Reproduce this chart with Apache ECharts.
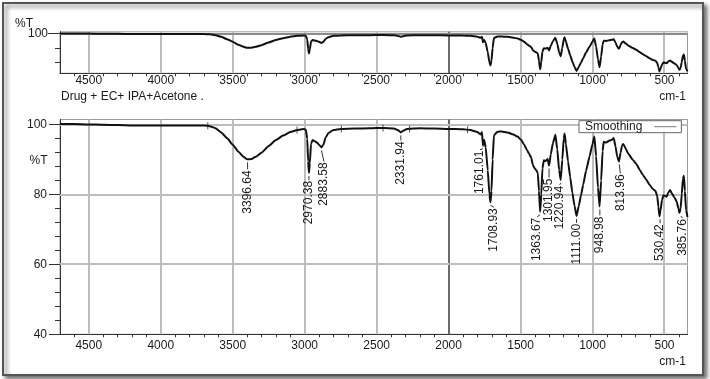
<!DOCTYPE html>
<html>
<head>
<meta charset="utf-8">
<script src="https://cdn.jsdelivr.net/npm/echarts@6/dist/echarts.min.js"></script>
<style>
html,body{margin:0;padding:0;background:#fff;}
#chart{width:710px;height:379px;}
</style>
</head>
<body>
<div id="chart"></div>
<script>
// ---------- DATA ----------
const wavenumber = [4700,4600,4500,4400,4300,4200,4100,4000,3900,3800,3700,3660,3620,3580,3540,3500,3460,3430,3400,3370,3340,3300,3250,3200,3150,3100,3050,3010,2992,2982,2976,2970,2964,2956,2945,2930,2915,2900,2884,2870,2855,2835,2800,2750,2650,2550,2450,2380,2350,2332,2315,2290,2200,2100,2000,1900,1850,1800,1778,1768,1761,1753,1742,1728,1716,1709,1702,1694,1685,1660,1630,1590,1550,1520,1495,1475,1455,1440,1425,1415,1403,1390,1380,1372,1364,1356,1348,1338,1325,1312,1302,1290,1275,1258,1245,1232,1221,1210,1200,1194,1185,1170,1155,1140,1125,1111,1095,1080,1065,1045,1020,1000,987,975,962,951,940,930,922,905,885,865,853,840,828,816,805,795,786,770,750,720,697,670,650,627,605,581,562,550,542,535,527,517,507,495,485,473,461,448,431,415,403,396,388,380,372,365,358,350,340];
const transmittance = [100.2,100.2,100.1,100.0,99.9,99.8,99.8,99.8,99.8,99.8,99.8,99.6,99.0,97.8,96.2,94.3,92.3,91.0,90.1,90.2,90.8,92.0,93.9,95.6,96.9,97.9,98.5,98.8,98.6,96.0,89.5,86.2,89.0,94.5,95.6,95.3,94.9,94.3,93.5,94.3,96.3,97.6,98.5,98.8,98.9,99.0,99.1,98.9,98.4,97.8,98.3,98.8,99.0,98.9,98.8,98.7,98.5,97.9,97.2,97.9,94.0,95.6,93.5,87.0,80.0,77.8,81.0,90.0,97.0,98.0,98.1,97.8,97.2,96.6,95.6,94.3,92.7,91.6,90.5,88.5,87.6,86.9,86.2,81.0,75.1,80.0,87.5,89.8,89.6,90.2,88.3,91.5,94.8,97.1,93.0,87.0,84.2,90.0,96.0,97.5,94.5,89.5,85.0,80.5,76.8,73.9,76.8,79.8,82.8,86.8,91.0,94.5,96.6,91.0,82.0,76.6,84.0,92.5,95.1,94.9,95.4,95.7,96.2,93.8,90.8,89.5,92.0,94.0,94.5,93.2,91.6,90.0,88.8,87.0,85.6,84.3,82.9,81.6,81.0,79.5,76.5,73.8,75.5,78.5,79.8,79.6,79.4,80.6,81.3,80.3,79.2,78.0,76.0,74.7,76.0,80.0,84.5,85.4,81.0,75.5,73.6];

const peakWn = [3396.64,2970.38,2883.58,2331.94,1761.01,1708.93,1363.67,1301.95,1220.94,1111.00,948.98,813.96,530.42,385.76];
const peakT = [90.1,86.2,93.5,97.8,94.0,77.8,75.1,88.3,84.2,73.9,76.6,89.5,73.8,74.7];
const peakLabels = ['3396.64','2970.38','2883.58','2331.94','1761.01','1708.93','1363.67','1301.95','1220.94','1111.00','948.98','813.96','530.42','385.76'];

const rangeMarkWn = [3673,3053,2745,2456,2271,1868];
const rangeMarkT = [99.7,98.5,98.8,99.1,98.8,98.6];

const xTickLabels = [500,1000,1500,2000,2500,3000,3500,4000,4500];
const xMinorTicks = [400,600,700,800,900,1100,1200,1300,1400,1600,1700,1800,1900,2100,2200,2300,2400,2600,2700,2800,2900,3100,3200,3300,3400,3600,3700,3800,3900,4100,4200,4300,4400,4600];
const yLowerLabels = [40,60,80,100];
const yLowerGrid = [60,80,100];
const yLowerMinor = [44,48,52,56,64,68,72,76,84,88,92,96];
const yUpperLabels = [100];
const yUpperGrid = [100];
const yUpperMinor = [80,90];
const markerWn = 2000;

// ---------- STYLE (label nudges in px: [dx, dy]) ----------
const labelNudge = [[0,11],[0,8],[2.5,15],[0,9],[-3,5],[3.5,6],[-3,6],[0,13],[-1,6],[0,8],[0,10],[1,13],[0,8],[1.5,6]];

const FONT = '"Liberation Sans", Arial, Helvetica, sans-serif';
const GRID_COLOR = '#bdbdbd';
const spectrum = wavenumber.map((w,i)=>[w, transmittance[i]]);
const plain = v => String(v);

const chart = echarts.init(document.getElementById('chart'), null, {renderer:'canvas'});

function mainX(gridIndex, margin){
  return {
    gridIndex, type:'value', min:340, max:4700, inverse:true,
    axisLine:{show:true, onZero:false, lineStyle:{color:'#333', width:1}},
    axisTick:{show:false},
    axisLabel:{customValues:xTickLabels, formatter:plain, margin, color:'#1a1a1a', fontSize:12, fontFamily:FONT},
    splitLine:{show:false}
  };
}
function minorX(gridIndex){
  return {
    gridIndex, type:'value', min:340, max:4700, inverse:true, position:'bottom',
    axisLine:{show:false}, axisLabel:{show:false}, splitLine:{show:false},
    axisTick:{show:true, customValues:xMinorTicks, length:3, lineStyle:{color:'#333'}}
  };
}
// gridlines drawn through the axes' scales: one custom series per direction
function vGridSeries(xi, yi){
  return {
    type:'custom', xAxisIndex:xi, yAxisIndex:yi, z:1, silent:true, clip:false,
    data: xTickLabels.map(w=>[w, 70]),
    renderItem:function(params, api){
      const cs = params.coordSys;
      const v = api.value(0);
      const x = Math.round(api.coord([v, 90])[0]);
      const isMarker = v === markerWn;
      return {type:'line', shape:{x1:x, y1:cs.y, x2:x, y2:cs.y+cs.height},
        style:{stroke: isMarker ? '#6a6a6a' : GRID_COLOR, lineWidth: 2}};
    }
  };
}
function hGridSeries(xi, yi, vals, color){
  return {
    type:'custom', xAxisIndex:xi, yAxisIndex:yi, z:1, silent:true, clip:false,
    data: vals.map(v=>[1000, v]),
    renderItem:function(params, api){
      const cs = params.coordSys;
      const y = Math.round(api.coord([1000, api.value(1)])[1]);
      return {type:'line', shape:{x1:cs.x, y1:y, x2:cs.x+cs.width, y2:y},
        style:{stroke: color, lineWidth:2}};
    }
  };
}

const option = {
  animation:false,
  backgroundColor:'#ffffff',
  grid:[
    {left:60, right:22.5, top:119.5, bottom:44.7, show:true, borderColor:'#9a9a9a', borderWidth:1, containLabel:false},
    {left:60, right:22.5, top:31.7, bottom:305.7, show:true, borderColor:'#9a9a9a', borderWidth:1, containLabel:false}
  ],
  xAxis:[ mainX(0,5), minorX(0), mainX(1,1), minorX(1) ],
  yAxis:[
    {gridIndex:0, type:'value', min:40, max:101.5, interval:20,
     axisLine:{show:true, lineStyle:{color:'#333'}},
     axisTick:{show:true, customValues:yLowerLabels, length:11, lineStyle:{color:'#333'}},
     axisLabel:{customValues:yLowerLabels, formatter:plain, margin:13, color:'#1a1a1a', fontSize:12, fontFamily:FONT},
     splitLine:{show:false}},
    {gridIndex:0, type:'value', min:40, max:101.5, position:'left',
     axisLine:{show:false}, axisLabel:{show:false}, splitLine:{show:false},
     axisTick:{show:true, customValues:yLowerMinor, length:5, lineStyle:{color:'#333'}}},
    {gridIndex:1, type:'value', min:72.3, max:101.4,
     axisLine:{show:true, lineStyle:{color:'#333'}},
     axisTick:{show:true, customValues:yUpperLabels, length:12, lineStyle:{color:'#333'}},
     axisLabel:{customValues:yUpperLabels, formatter:plain, margin:12, color:'#1a1a1a', fontSize:12, fontFamily:FONT},
     splitLine:{show:false}},
    {gridIndex:1, type:'value', min:72.3, max:101.4, position:'left',
     axisLine:{show:false}, axisLabel:{show:false}, splitLine:{show:false},
     axisTick:{show:true, customValues:yUpperMinor, length:5, lineStyle:{color:'#333'}}}
  ],
  legend:{
    left:579, top:120.7, orient:'horizontal', align:'right',
    backgroundColor:'#fff', borderColor:'#666', borderWidth:1, borderRadius:0,
    padding:[0,5,0,6], itemWidth:22, itemHeight:1, itemGap:0,
    textStyle:{color:'#1a1a1a', fontSize:12, fontFamily:FONT, padding:[0,7,0,0]},
    data:[{name:'Smoothing', icon:'rect', itemStyle:{color:'#777'}}]
  },
  series:[
    vGridSeries(0, 0),
    hGridSeries(0, 0, yLowerGrid, GRID_COLOR),
    vGridSeries(2, 2),
    hGridSeries(2, 2, yUpperGrid, '#8a8a8a'),
    {
      name:'Smoothing', type:'line', xAxisIndex:0, yAxisIndex:0, data:spectrum,
      symbol:'none', smooth:0.15, smoothMonotone:'x',
      lineStyle:{color:'#111', width:2}, itemStyle:{color:'#777'}, z:5
    },
    {
      name:'Overview', type:'line', xAxisIndex:2, yAxisIndex:2, data:spectrum,
      symbol:'none', smooth:0.15, smoothMonotone:'x',
      lineStyle:{color:'#111', width:2}, z:5,
      markArea:{silent:true, z:0, itemStyle:{color:'#e2e2e2'}, data:[[{yAxis:100},{yAxis:101.4}]]}
    },
    {
      name:'ranges', type:'scatter', xAxisIndex:0, yAxisIndex:0,
      data: rangeMarkWn.map((w,i)=>[w, rangeMarkT[i]]),
      symbol:'rect', symbolSize:[1,7], itemStyle:{color:'#222'}, z:6, silent:true
    },
    {
      name:'peaks', type:'custom', xAxisIndex:0, yAxisIndex:0, clip:false, z:7, silent:true,
      data: peakWn.map((w,i)=>[w, peakT[i]]),
      renderItem:function(params, api){
        const i = params.dataIndex;
        const p = api.coord([api.value(0), api.value(1)]);
        const dx = labelNudge[i][0], dy = labelNudge[i][1];
        return {type:'group', children:[
          {type:'line', shape:{x1:p[0], y1:p[1]+3, x2:p[0]+dx, y2:p[1]+dy-1},
           style:{stroke:'#333', lineWidth:1}},
          {type:'text', x:p[0]+dx, y:p[1]+dy, rotation:Math.PI/2,
           style:{text:peakLabels[i], align:'right', verticalAlign:'middle',
                  font:'12px ' + FONT, fill:'#1a1a1a'}}
        ]};
      }
    }
  ],
  graphic:[
    {type:'rect', z:-10, silent:true, shape:{x:3, y:3, width:700, height:372},
     style:{fill:'#fff', stroke:'#555', lineWidth:2, shadowBlur:4, shadowOffsetX:3, shadowOffsetY:3, shadowColor:'rgba(0,0,0,0.55)'}},
    {type:'text', left:15, top:18, style:{text:'%T', font:'12px ' + FONT, fill:'#1a1a1a'}},
    {type:'text', left:29.5, top:155, style:{text:'%T', font:'12px ' + FONT, fill:'#1a1a1a'}},
    {type:'text', left:61, top:91, style:{text:'Drug + EC+ IPA+Acetone .', font:'12px ' + FONT, fill:'#1a1a1a'}},
    {type:'text', right:24, top:91, style:{text:'cm-1', font:'12px ' + FONT, fill:'#1a1a1a'}},
    {type:'text', right:24, top:355.5, style:{text:'cm-1', font:'12px ' + FONT, fill:'#1a1a1a'}}
  ]
};
chart.setOption(option);
</script>
</body>
</html>
